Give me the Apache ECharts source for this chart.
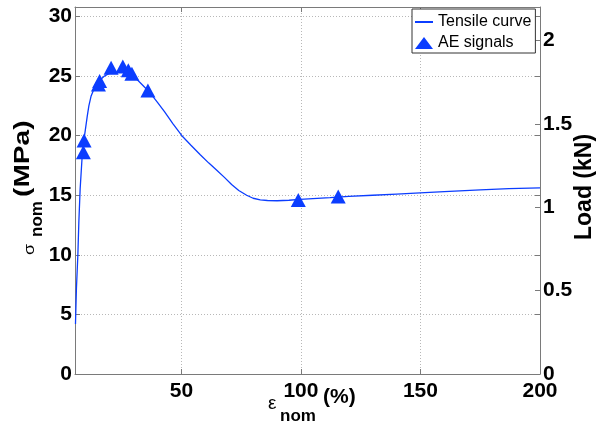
<!DOCTYPE html>
<html><head><meta charset="utf-8">
<script src="https://cdn.jsdelivr.net/npm/echarts@6/dist/echarts.min.js"></script>
<style>html,body{margin:0;padding:0;background:#fff}#c{width:596px;height:423px}</style>
</head><body><div id="c"></div>
<script>
// Tensile curve (strain %, nominal stress MPa)
const strainCurve = [5.7, 6.1, 6.7, 7.1, 7.65, 8.5, 9.2, 9.9, 10.6, 11.3, 12.2, 13.4, 14.7, 16.1, 17.8, 19.6, 21.5, 23.8, 27, 30, 33, 36.9, 40, 43, 46.5, 50.2, 54, 57.9, 61.5, 64.8, 68, 71, 74, 77.3, 80, 83, 86, 90, 95, 99.6, 105, 112.2, 120, 130, 140, 149.8, 160, 175, 187, 200];
const stressCurve = [4.2, 7.2, 10.0, 12.7, 15.5, 18.3, 19.6, 20.6, 21.6, 22.5, 23.3, 23.9, 24.35, 24.7, 25.0, 25.2, 25.3, 25.35, 25.3, 25.0, 24.4, 23.6, 22.8, 22.0, 21.0, 20.0, 19.2, 18.4, 17.7, 17.1, 16.5, 15.9, 15.4, 15.0, 14.75, 14.62, 14.56, 14.54, 14.58, 14.65, 14.72, 14.8, 14.9, 15.0, 15.1, 15.2, 15.3, 15.45, 15.55, 15.62];
// AE signals
const aeStrain = [9.0, 9.3, 15.3, 15.8, 20.6, 25.5, 27.8, 29.3, 36.0, 98.9, 115.6];
const aeStress = [18.6, 19.6, 24.3, 24.6, 25.7, 25.8, 25.5, 25.2, 23.8, 14.6, 14.9];
// tick labels
const xTicks = [50, 100, 150, 200];
const xInnerTicks = [50, 100, 150];
const yLeftTicks = [0, 5, 10, 15, 20, 25, 30];
const yRightTicks = [0, 0.5, 1, 1.5, 2];
const seriesNames = ['Tensile curve', 'AE signals'];

const FONT = "'Liberation Sans', Arial, Helvetica, sans-serif";
const AX = '#7a7a7a';
const GRID = '#b8b8b8';
const BLUE = '#0b3dff';

const chart = echarts.init(document.getElementById('c'), null, {renderer: 'canvas'});
const curveData = strainCurve.map((x, i) => [x, stressCurve[i]]);
const aeData = aeStrain.map((x, i) => [x, aeStress[i]]);

const tickLabel = {fontSize: 21, fontWeight: 'bold', fontFamily: FONT, color: '#000'};

function label(text, font, size, x, y, rot, sx) {
  return {
    type: 'text', x: x, y: y, rotation: rot || 0, scaleX: sx || 1, silent: true,
    style: {text: text, font: font + ' ' + size + 'px ' + FONT, fill: '#000',
            align: 'left', verticalAlign: 'middle', textAlign: 'left', textVerticalAlign: 'middle'}
  };
}
const K = 0.3465; // baseline offset from middle, in em

const option = {
  animation: false,
  backgroundColor: '#fff',
  grid: {left: 75, right: 56, top: 7, bottom: 49, containLabel: false, outerBoundsMode: 'none'},
  legend: {
    orient: 'vertical', left: 412, top: 9,
    padding: [5, 4, 2, 2], itemGap: 5, itemWidth: 18, itemHeight: 12,
    borderColor: '#333', borderWidth: 1, borderRadius: 0, backgroundColor: '#fff',
    textStyle: {fontSize: 16, fontFamily: FONT, color: '#000'},
    data: [{name: seriesNames[0], itemStyle: {opacity: 0}}, {name: seriesNames[1], icon: 'triangle'}]
  },
  xAxis: [
    {
      type: 'value', position: 'bottom', min: 5.5, max: 200,
      axisLine: {show: true, onZero: false, lineStyle: {color: AX, width: 1}},
      axisTick: {show: true, inside: true, length: 5, customValues: xInnerTicks, lineStyle: {color: AX}},
      axisLabel: Object.assign({customValues: xTicks, margin: 7}, tickLabel),
      splitLine: {show: true, lineStyle: {color: GRID, type: [1, 2], width: 1}}
    },
    {
      type: 'value', position: 'top', min: 5.5, max: 200,
      axisLine: {show: true, onZero: false, lineStyle: {color: AX, width: 1}},
      axisTick: {show: true, inside: true, length: 5, customValues: xInnerTicks, lineStyle: {color: AX}},
      axisLabel: {show: false},
      splitLine: {show: false}
    }
  ],
  yAxis: [
    {
      type: 'value', position: 'left', min: 0, max: 30.8,
      axisLine: {show: true, onZero: false, lineStyle: {color: AX, width: 1}},
      axisTick: {show: true, inside: true, length: 5, customValues: yLeftTicks, lineStyle: {color: AX}},
      axisLabel: Object.assign({customValues: yLeftTicks, margin: 3, padding: [4, 0, 0, 0]}, tickLabel),
      splitLine: {show: true, lineStyle: {color: GRID, type: [1, 2], width: 1}}
    },
    {
      type: 'value', position: 'right', min: 0, max: 2.2,
      axisLine: {show: true, onZero: false, lineStyle: {color: AX, width: 1}},
      axisTick: {show: true, inside: true, length: 5, customValues: yRightTicks, lineStyle: {color: AX}},
      axisLabel: Object.assign({customValues: yRightTicks, margin: 3, padding: [4, 0, 0, 0]}, tickLabel),
      splitLine: {show: false}
    },
    {
      type: 'value', position: 'right', min: 0, max: 30.8,
      axisLine: {show: false},
      axisTick: {show: true, inside: true, length: 5, customValues: yLeftTicks, lineStyle: {color: AX}},
      axisLabel: {show: false},
      splitLine: {show: false}
    }
  ],
  series: [
    {
      name: seriesNames[0], type: 'line', xAxisIndex: 0, yAxisIndex: 0,
      data: curveData, showSymbol: false, symbol: 'none', smooth: false,
      lineStyle: {color: BLUE, width: 1.3}, itemStyle: {color: BLUE}, z: 2
    },
    {
      name: seriesNames[1], type: 'scatter', xAxisIndex: 0, yAxisIndex: 0,
      data: aeData, symbol: 'triangle', symbolSize: [15, 14],
      itemStyle: {color: BLUE, opacity: 1}, z: 3
    }
  ],
  graphic: [
    label('σ', 'normal', 15, 35 - K * 15, 255, Math.PI / 2, 1.2),
    label('nom', 'bold', 17, 43.3 - K * 17, 237, Math.PI / 2, 1),
    label('(MPa)', 'bold', 22, 30.7 - K * 22, 197, Math.PI / 2, 1.28),
    label('ε', 'normal', 19, 268, 410 - K * 19),
    label('nom', 'bold', 17, 280, 422 - K * 17),
    label('(%)', 'bold', 21, 323, 404 - K * 21),
    label('Load (kN)', 'bold', 23, 593 - K * 23, 240, Math.PI / 2, 1)
  ]
};
chart.setOption(option);
</script>
</body></html>
